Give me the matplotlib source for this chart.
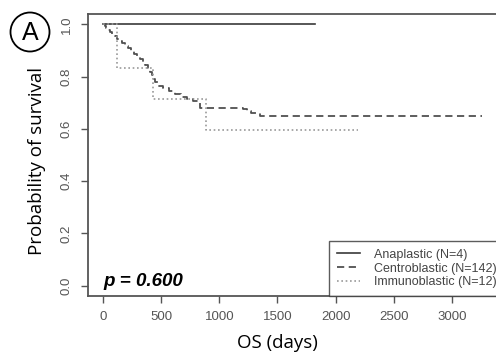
import matplotlib
matplotlib.use("Agg")
import matplotlib.pyplot as plt
from matplotlib.patches import Ellipse

# curvas de supervivencia (dias, probabilidad)
ana_t = [0, 1820]
ana_s = [1.0, 1.0]

cen_t = [0, 15, 30, 45, 60, 80, 100, 120, 140, 165, 190, 215, 240, 265, 290, 315,
         340, 365, 390, 405, 420, 435, 450, 470, 515, 570, 620, 670, 720, 775, 835,
         1205, 1240, 1270, 1350, 3260]
cen_s = [1.0, 0.993, 0.986, 0.979, 0.972, 0.965, 0.955, 0.945, 0.937, 0.928, 0.918,
         0.908, 0.898, 0.888, 0.877, 0.866, 0.855, 0.845, 0.832, 0.818, 0.805, 0.79,
         0.778, 0.765, 0.755, 0.745, 0.735, 0.724, 0.713, 0.705, 0.68, 0.675, 0.667,
         0.66, 0.65, 0.65]

imm_t = [0, 120, 430, 886, 2195]
imm_s = [1.0, 0.833, 0.714, 0.595, 0.595]

etiquetas = ["Anaplastic (N=4)", "Centroblastic (N=142)", "Immunoblastic (N=12)"]
xticks = [0, 500, 1000, 1500, 2000, 2500, 3000]
yticks = [0.0, 0.2, 0.4, 0.6, 0.8, 1.0]

W, H = 496, 358
fig = plt.figure(figsize=(W / 100, H / 100), dpi=100)
ax = fig.add_axes([88 / W, 1 - 296 / H, 420 / W, 282 / H])

ax.step(ana_t, ana_s, where="post", color="#3a3a3a", lw=1.2, label=etiquetas[0])
ax.step(cen_t, cen_s, where="post", color="#505050", lw=1.3, dashes=(4, 2.5),
        label=etiquetas[1])
ax.step(imm_t, imm_s, where="post", color="#9a9a9a", lw=1.2, dashes=(1, 1.6),
        label=etiquetas[2])

ax.set_xlim(-129, 3482)
ax.set_ylim(-0.04, 1.04)
ax.set_xticks(xticks)
ax.set_yticks(yticks)
ax.set_xticklabels([str(v) for v in xticks], family="Liberation Sans", fontsize=9.5,
                   color="#555555")
ax.set_yticklabels(["%.1f" % v for v in yticks], family="Liberation Sans", fontsize=9.5,
                   color="#555555", rotation=90, va="center")
ax.tick_params(length=5, width=1, color="#555555", pad=6)
for s in ax.spines.values():
    s.set_color("#555555")
    s.set_linewidth(1.3)

leg = ax.legend(loc="lower left", bbox_to_anchor=((329 - 88) / 420, 0.0), borderaxespad=0,
                fancybox=False, edgecolor="#333333", handlelength=1.9,
                labelspacing=0.15, borderpad=0.6, handletextpad=1.1,
                prop={"family": "Liberation Sans", "size": 9})
leg.get_frame().set_linewidth(1.0)
for t in leg.get_texts():
    t.set_color("#444444")

ax.text(0.036, 0.035, "p = 0.600", transform=ax.transAxes, fontsize=13.5,
        fontweight="bold", style="italic", family="Liberation Sans")

fig.text(37 / W, 1 - 161 / H, "Probability of survival", rotation=90,
         ha="center", va="center", fontsize=13.5, family="Open Sans")
fig.text(277 / W, 1 - 343 / H, "OS (days)", ha="center", va="center",
         fontsize=13.5, family="Open Sans")

# letra A con circulo
fig.patches.append(Ellipse((30 / W, 1 - 32 / H), 39 / W, 39 / H,
                           transform=fig.transFigure, fc="none", ec="black", lw=1.3))
fig.text(30 / W, 1 - 33 / H, "A", ha="center", va="center", fontsize=18,
         family="Liberation Sans")

fig.savefig("out.png", dpi=100)
